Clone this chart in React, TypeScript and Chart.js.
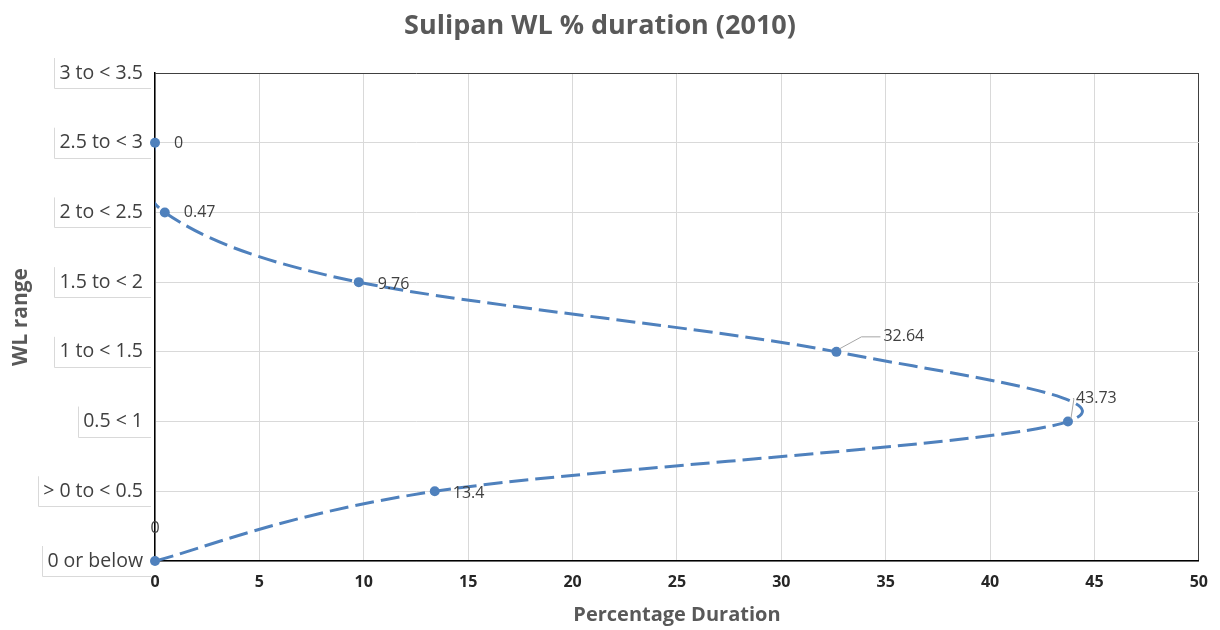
import React, { useEffect, useRef } from "react";
import { Chart, registerables } from "chart.js";

Chart.register(...registerables);

const titleText = "Sulipan WL % duration (2010)";
const wlRanges = [
  "0 or below",
  "> 0 to < 0.5",
  "0.5 < 1",
  "1 to < 1.5",
  "1.5 to < 2",
  "2 to < 2.5",
  "2.5 to < 3",
  "3 to < 3.5",
];
const durationPct = [0, 13.4, 43.73, 32.64, 9.76, 0.47, 0];
const durationLabels = ["0", "13.4", "43.73", "32.64", "9.76", "0.47", "0"];
const xAxisTitle = "Percentage Duration";
const yAxisTitle = "WL range";

const FONT = "'Open Sans', 'Noto Sans', sans-serif";
const BLUE = "#4F81BD";

// label offsets relative to each point (style only)
const labelOffsets = [
  { dx: 0, dy: -33, align: "center" as CanvasTextAlign, leader: false },
  { dx: 18, dy: 2, align: "left" as CanvasTextAlign, leader: false },
  { dx: 8, dy: -23, align: "left" as CanvasTextAlign, leader: true },
  { dx: 47, dy: -15, align: "left" as CanvasTextAlign, leader: true },
  { dx: 19, dy: 2, align: "left" as CanvasTextAlign, leader: false },
  { dx: 19, dy: 0, align: "left" as CanvasTextAlign, leader: false },
  { dx: 19, dy: 1, align: "left" as CanvasTextAlign, leader: false },
];

// Excel-style smoothing: uniform Catmull-Rom control points (tangent / 6)
const excelSmoothPlugin = {
  id: "excelSmooth",
  beforeDatasetsDraw(chart: any) {
    const meta = chart.getDatasetMeta(0);
    const pts = meta.data;
    const n = pts.length;
    for (let i = 0; i < n; i++) {
      const prev = pts[Math.max(i - 1, 0)];
      const next = pts[Math.min(i + 1, n - 1)];
      const tx = (next.x - prev.x) / 6;
      const ty = (next.y - prev.y) / 6;
      pts[i].cp1x = pts[i].x - tx;
      pts[i].cp1y = pts[i].y - ty;
      pts[i].cp2x = pts[i].x + tx;
      pts[i].cp2y = pts[i].y + ty;
    }
    if (meta.dataset) meta.dataset._pointsUpdated = true;
  },
};

const dataLabelPlugin = {
  id: "dataLabels",
  afterDatasetsDraw(chart: any) {
    const ctx = chart.ctx as CanvasRenderingContext2D;
    const meta = chart.getDatasetMeta(1);
    ctx.save();
    ctx.font = `16px ${FONT}`;
    ctx.fillStyle = "#404040";
    ctx.textBaseline = "middle";
    meta.data.forEach((pt: any, i: number) => {
      const o = labelOffsets[i];
      const tx = pt.x + o.dx;
      const ty = pt.y + o.dy;
      if (o.leader) {
        ctx.strokeStyle = "#a6a6a6";
        ctx.lineWidth = 1;
        ctx.beginPath();
        ctx.moveTo(pt.x + 3, pt.y - 3);
        ctx.lineTo(o.dx > 20 ? tx - 22 : tx - 2, ty);
        ctx.lineTo(tx - 3, ty);
        ctx.stroke();
      }
      ctx.textAlign = o.align;
      ctx.fillText(durationLabels[i], tx, ty);
    });
    ctx.restore();
  },
};

const yLabelBoxPlugin = {
  id: "yLabelBoxes",
  afterDraw(chart: any) {
    const ctx = chart.ctx as CanvasRenderingContext2D;
    const scale = chart.scales.y;
    ctx.save();
    ctx.font = `19.5px ${FONT}`;
    ctx.strokeStyle = "#d9d9d9";
    ctx.lineWidth = 1;
    scale.ticks.forEach((t: any) => {
      const label = wlRanges[t.value];
      if (!label) return;
      const y = scale.getPixelForValue(t.value);
      const right = chart.chartArea.left - 12;
      const w = ctx.measureText(label).width;
      const lx = Math.round(right - w - 5) + 0.5;
      const by = Math.round(y + 15) + 0.5;
      ctx.beginPath();
      ctx.moveTo(lx, y - 15);
      ctx.lineTo(lx, by);
      ctx.lineTo(chart.chartArea.left - 4, by);
      ctx.stroke();
    });
    ctx.restore();
  },
};

export default function App() {
  const canvasRef = useRef<HTMLCanvasElement | null>(null);

  useEffect(() => {
    document.body.style.margin = "0";
    const canvas = canvasRef.current;
    if (!canvas) return;
    const points = durationPct.map((v, i) => ({ x: v, y: i }));
    const chart = new Chart(canvas, {
      type: "line",
      data: {
        datasets: [
          {
            // smoothed dashed line, clipped to the plot area like Excel
            data: points,
            borderColor: BLUE,
            backgroundColor: BLUE,
            borderWidth: 3,
            borderDash: [19, 7],
            pointRadius: 0,
            tension: 0.4,
            fill: false,
            clip: { left: 0, top: 20, right: 20, bottom: 5 } as any,
          },
          {
            // markers, not clipped
            data: points,
            showLine: false,
            borderColor: BLUE,
            backgroundColor: BLUE,
            pointRadius: 5,
            pointBorderWidth: 0,
            pointBackgroundColor: BLUE,
            clip: false as any,
          },
        ],
      },
      options: {
        animation: false,
        responsive: false,
        layout: { padding: { left: 0, right: 20, top: 0, bottom: 0 } },
        plugins: {
          legend: { display: false },
          tooltip: { enabled: false },
          title: {
            display: true,
            text: titleText,
            color: "#595959",
            font: { family: FONT, size: 27, weight: "bold" },
            padding: { top: 10, bottom: 30.6 },
          },
        },
        scales: {
          x: {
            type: "linear",
            min: 0,
            max: 50,
            ticks: {
              stepSize: 5,
              color: "#262626",
              font: { family: FONT, size: 16, weight: "bold" },
              padding: 12,
            },
            grid: {
              drawTicks: false,
              color: (c: any) => (c.tick && c.tick.value === 50 ? "#404040" : "#d9d9d9"),
              lineWidth: 1,
            },
            border: { color: "#000000", width: 1.5 },
            title: {
              display: true,
              text: xAxisTitle,
              color: "#595959",
              font: { family: FONT, size: 20, weight: "bold" },
              padding: { top: 4, bottom: 3 },
            },
            afterFit: (s: any) => {
              s.height = 69;
            },
          },
          y: {
            type: "linear",
            min: 0,
            max: 7,
            ticks: {
              stepSize: 1,
              color: "#404040",
              font: { family: FONT, size: 19.5 },
              padding: 12,
              callback: (v: any) => wlRanges[v as number] ?? "",
            },
            grid: {
              drawTicks: false,
              color: (c: any) => (c.tick && c.tick.value === 7 ? "#404040" : "#d9d9d9"),
              lineWidth: 1,
            },
            border: { color: "#000000", width: 1.5 },
            title: {
              display: true,
              text: yAxisTitle,
              color: "#595959",
              font: { family: FONT, size: 21, weight: "bold" },
              padding: { top: 8, bottom: 4 },
            },
            afterFit: (s: any) => {
              s.width = 155;
            },
          },
        },
      },
      plugins: [excelSmoothPlugin, dataLabelPlugin, yLabelBoxPlugin],
    });
    return () => chart.destroy();
  }, []);

  return (
    <div style={{ width: 1220, height: 630, background: "#ffffff" }}>
      <canvas ref={canvasRef} width={1220} height={630} />
    </div>
  );
}
